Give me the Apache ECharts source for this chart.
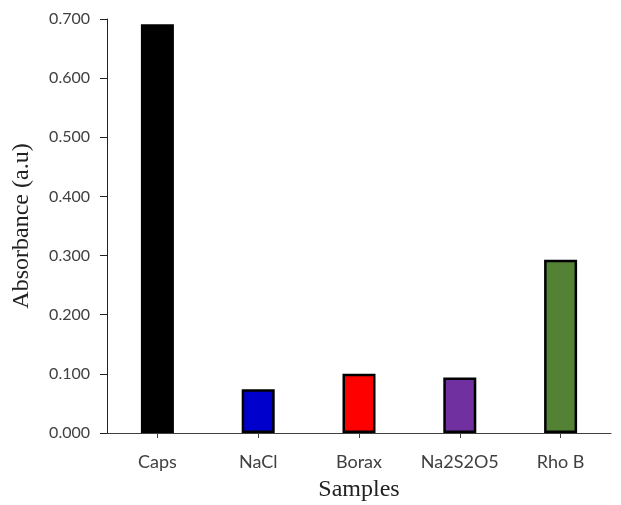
<!DOCTYPE html>
<html><head><meta charset="utf-8">
<script src="https://cdn.jsdelivr.net/npm/echarts@6/dist/echarts.min.js"></script>
<style>html,body{margin:0;padding:0;background:#fff;overflow:hidden}#c{width:621px;height:505px}</style>
</head><body><div id="c"></div>
<script>
const categories = ['Caps', 'NaCl', 'Borax', 'Na2S2O5', 'Rho B'];
const absorbance = [0.691, 0.074, 0.100, 0.094, 0.293];
const barColors = ['#000000', '#0000CC', '#FF0000', '#7030A0', '#548235'];
const yTicks = { min: 0, max: 0.7, interval: 0.1 };

const chart = echarts.init(document.getElementById('c'), null, { renderer: 'canvas' });
chart.setOption({
  animation: false,
  backgroundColor: '#ffffff',
  grid: { left: 107, right: 10, top: 19, bottom: 72, containLabel: false, outerBoundsMode: 'none' },
  xAxis: {
    type: 'category',
    data: categories,
    name: 'Samples',
    nameLocation: 'middle',
    nameGap: 45,
    nameTextStyle: { fontFamily: 'Liberation Serif', fontSize: 24, color: '#222' },
    axisLine: { lineStyle: { color: '#404040', width: 1 } },
    axisTick: { show: true, alignWithLabel: true, length: 5, lineStyle: { color: '#404040' } },
    axisLabel: { fontFamily: 'Lato', fontSize: 18, color: '#404040', margin: 20, interval: 0, hideOverlap: false },
    splitLine: { show: false }
  },
  yAxis: {
    type: 'value',
    min: yTicks.min, max: yTicks.max, interval: yTicks.interval,
    name: 'Absorbance (a.u)',
    nameLocation: 'middle',
    nameGap: 73,
    nameTextStyle: { fontFamily: 'Liberation Serif', fontSize: 24, color: '#222' },
    axisLine: { show: true, lineStyle: { color: '#222', width: 1 } },
    axisTick: { show: true, length: 7, lineStyle: { color: '#222' } },
    axisLabel: { fontFamily: 'Lato', fontSize: 16, color: '#404040', margin: 17,
      formatter: v => v.toFixed(3) },
    splitLine: { show: false }
  },
  series: [{
    type: 'bar',
    barWidth: 33,
    data: absorbance.map((v, i) => ({
      value: v,
      itemStyle: { color: barColors[i], borderColor: '#000', borderWidth: 2.5 }
    }))
  }]
});
</script></body></html>
